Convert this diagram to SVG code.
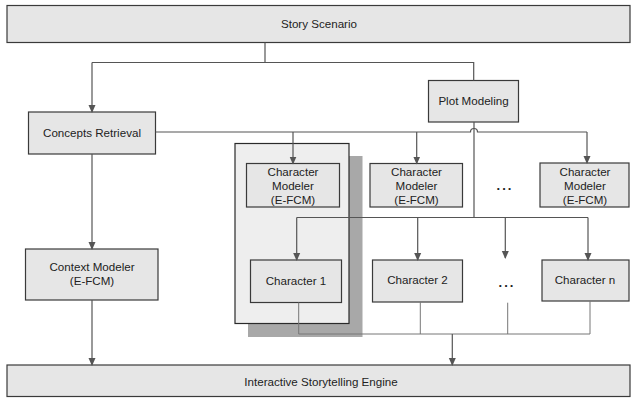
<svg xmlns="http://www.w3.org/2000/svg" width="631" height="398" viewBox="0 0 631 398">
<defs>
<marker id="arr" markerUnits="userSpaceOnUse" markerWidth="8" markerHeight="10" refX="7" refY="4" orient="auto" viewBox="0 0 8 8">
<path d="M0,0.5 L8,4 L0,7.5 Z" fill="#555"/>
</marker>
</defs>
<style>
.box{fill:#e6e6e6;stroke:#3a3a3a;stroke-width:1.2}
.panel{fill:#eeeeee;stroke:#2a2a2a;stroke-width:1.2}
.shadow{fill:#a8a8a8}
.ln{fill:none;stroke:#555;stroke-width:1.2}
.la{fill:none;stroke:#555;stroke-width:1.2;marker-end:url(#arr)}
.lg{fill:none;stroke:#777;stroke-width:1}
text{font-family:"Liberation Sans",Arial,Helvetica,sans-serif;font-size:11.6px;fill:#222;text-anchor:middle}
.dots{font-size:13px;font-weight:bold;letter-spacing:2px}
</style>
<rect width="631" height="398" fill="#fff"/>
<g id="story">
<rect class="box" x="7" y="5.5" width="623" height="37"/>
<text x="319" y="28">Story Scenario</text>
</g>
<g id="plot">
<rect class="box" x="428.5" y="80.5" width="90" height="41.5"/>
<text x="473.5" y="105">Plot Modeling</text>
</g>
<g id="concepts">
<rect class="box" x="28.5" y="112" width="127" height="42"/>
<text x="92" y="136.5">Concepts Retrieval</text>
</g>
<g id="context">
<rect class="box" x="25.5" y="249" width="132.5" height="51"/>
<text x="92" y="270.5">Context Modeler</text>
<text x="92" y="284.5">(E-FCM)</text>
</g>
<g id="character1-group">
<rect class="shadow" x="248" y="156" width="114.5" height="181"/>
<rect class="panel" x="235" y="143.5" width="114" height="180"/>
</g>
<g id="cm1">
<rect class="box" x="246.5" y="163.5" width="93" height="43.5"/>
<text x="293" y="175.5">Character</text>
<text x="293" y="189.5">Modeler</text>
<text x="293" y="203.5">(E-FCM)</text>
</g>
<g id="cm2">
<rect class="box" x="370" y="163.5" width="92.5" height="43.5"/>
<text x="416.5" y="175.5">Character</text>
<text x="416.5" y="189.5">Modeler</text>
<text x="416.5" y="203.5">(E-FCM)</text>
</g>
<g id="cmn">
<rect class="box" x="540" y="163" width="89" height="44"/>
<text x="585" y="175.5">Character</text>
<text x="585" y="189.5">Modeler</text>
<text x="585" y="203.5">(E-FCM)</text>
</g>
<g id="dots1"><text class="dots" x="505" y="190">...</text></g>
<g id="c1">
<rect class="box" x="250.5" y="260" width="91" height="42.5"/>
<text x="296" y="285">Character 1</text>
</g>
<g id="c2">
<rect class="box" x="372.5" y="260" width="90" height="42"/>
<text x="417.5" y="284">Character 2</text>
</g>
<g id="dots2"><text class="dots" x="507" y="287">...</text></g>
<g id="cn">
<rect class="box" x="542" y="260" width="87" height="41"/>
<text x="585" y="284">Character n</text>
</g>
<g id="engine">
<rect class="box" x="7" y="365" width="623" height="31.5"/>
<text x="321" y="385.5">Interactive Storytelling Engine</text>
</g>
<g id="connectors">
<path class="ln" d="M265,42.5 V62.5 M92,62.5 H473.7 V80.5"/>
<path class="la" d="M92,62.5 V112"/>
<path class="la" d="M92,154 V249"/>
<path class="la" d="M92,300 V365"/>
<path class="ln" d="M155.5,132 H470.5 A3.5,3.5 0 0 1 477.5,132 H587"/>
<path class="la" d="M293,132 V163.5"/>
<path class="la" d="M416.7,132 V163.5"/>
<path class="la" d="M587,132 V163"/>
<path class="ln" d="M474,122 V217.5 M296.7,217.5 H588"/>
<path class="la" d="M296.7,217.5 V260"/>
<path class="la" d="M417.7,217.5 V260"/>
<path class="la" d="M505.3,217.5 V258"/>
<path class="la" d="M588,217.5 V260"/>
<path class="lg" d="M298.7,302.5 V334 H590 M420.3,302 V334 M507.7,302.7 V334 M590,301 V334"/>
<path class="la" d="M452.3,334 V365"/>
</g>
</svg>
